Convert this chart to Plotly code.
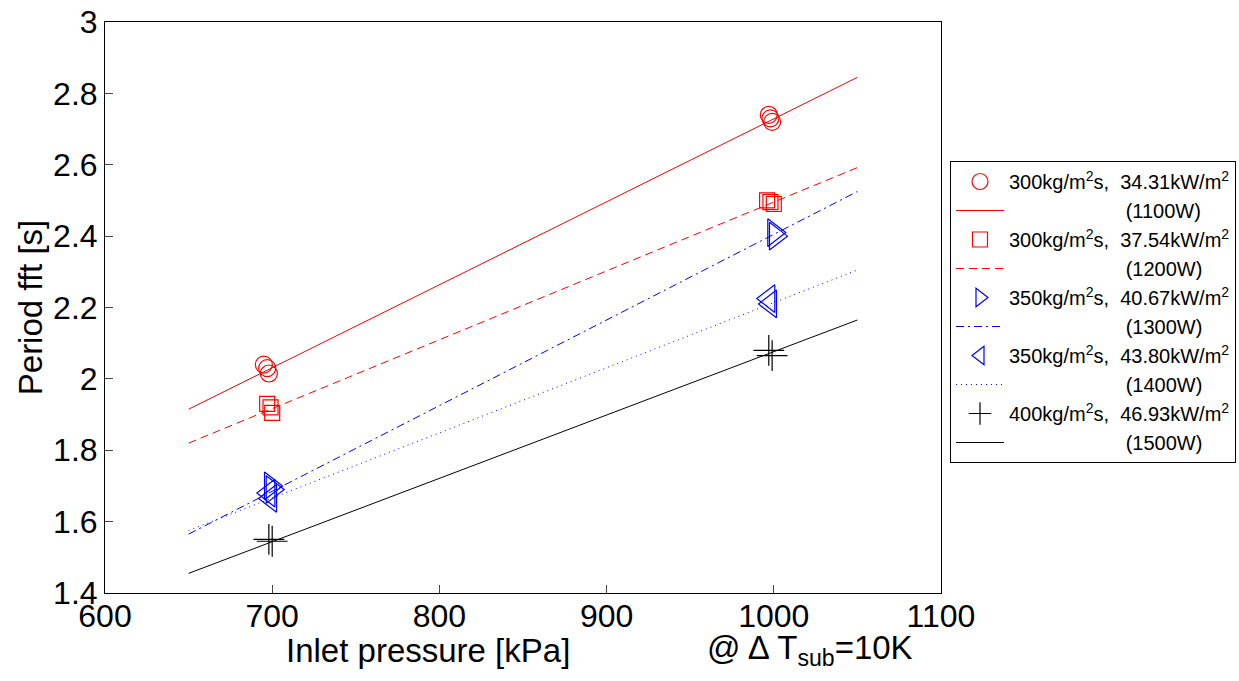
import plotly.graph_objects as go

# ---- data ----
labels = ["300kg/m<sup>2</sup>s,\u00a0 34.31kW/m<sup>2</sup>",
          "300kg/m<sup>2</sup>s,\u00a0 37.54kW/m<sup>2</sup>",
          "350kg/m<sup>2</sup>s,\u00a0 40.67kW/m<sup>2</sup>",
          "350kg/m<sup>2</sup>s,\u00a0 43.80kW/m<sup>2</sup>",
          "400kg/m<sup>2</sup>s,\u00a0 46.93kW/m<sup>2</sup>"]
powers = ["(1100W)", "(1200W)", "(1300W)", "(1400W)", "(1500W)"]

p_1100 = [695, 697, 698, 997, 998, 999]
t_1100 = [2.04, 2.03, 2.015, 2.74, 2.73, 2.72]
p_1200 = [697, 699, 700, 996, 998, 1000]
t_1200 = [1.93, 1.92, 1.905, 2.50, 2.495, 2.49]
p_1300 = [699, 700, 1000, 1001]
t_1300 = [1.70, 1.69, 2.41, 2.40]
p_1400 = [698, 699, 997, 998]
t_1400 = [1.68, 1.665, 2.225, 2.21]
p_1500 = [698, 700, 997, 999]
t_1500 = [1.55, 1.545, 2.08, 2.065]

fit_p = [650, 1050]
fit_1100 = [1.915, 2.845]
fit_1200 = [1.82, 2.592]
fit_1300 = [1.565, 2.525]
fit_1400 = [1.575, 2.305]
fit_1500 = [1.455, 2.165]

x_ticks = [600, 700, 800, 900, 1000, 1100]
y_ticks = [1.4, 1.6, 1.8, 2.0, 2.2, 2.4, 2.6, 2.8, 3.0]
y_tick_text = ["1.4", "1.6", "1.8", "2", "2.2", "2.4", "2.6", "2.8", "3"]

RED = "rgb(255,0,0)"
BLUE = "rgb(0,0,255)"
BLACK = "rgb(0,0,0)"

series = [
    (p_1100, t_1100, fit_1100, "circle-open", 17, RED, "solid"),
    (p_1200, t_1200, fit_1200, "square-open", 15, RED, "8px,5px"),
    (p_1300, t_1300, fit_1300, "triangle-right-open", 24, BLUE, "8px,4px,2px,4px"),
    (p_1400, t_1400, fit_1400, "triangle-left-open", 24, BLUE, "1px,4px"),
    (p_1500, t_1500, fit_1500, "cross-thin-open", 22, BLACK, "solid"),
]

FONT = "Liberation Sans, Arial, sans-serif"
fig = go.Figure()
for i, (px, py, fy, sym, sz, col, dash) in enumerate(series):
    fig.add_trace(go.Scatter(
        x=px, y=py, mode="markers", name=labels[i],
        legendgroup=f"g{i}",
        marker=dict(symbol=sym, size=sz, color=col, line=dict(color=col, width=1.2)),
    ))
    fig.add_trace(go.Scatter(
        x=fit_p, y=fy, mode="lines", name="\u00a0" * 21 + powers[i],
        legendgroup=f"g{i}",
        line=dict(color=col, width=1, dash=dash),
    ))

fig.update_layout(
    width=1239, height=681,
    margin=dict(l=105, r=298, t=22, b=88, autoexpand=False),
    paper_bgcolor="white", plot_bgcolor="white",
    font=dict(family=FONT, color="black", size=32),
    showlegend=True,
    legend=dict(
        xref="container", yref="container",
        x=950 / 1239, y=1 - 161 / 681, xanchor="left", yanchor="top",
        bordercolor="black", borderwidth=1, bgcolor="white",
        font=dict(size=20, family=FONT), itemwidth=48,
        tracegroupgap=0, itemsizing="trace",
    ),
    xaxis=dict(
        range=[600, 1100], tickvals=x_ticks, ticks="inside", ticklen=8,
        showgrid=False, zeroline=False, showline=True, linecolor="black",
        linewidth=1, mirror=True, tickfont=dict(size=32), automargin=False,
        ticklabelstandoff=-5,
    ),
    yaxis=dict(
        range=[1.4, 3.0], tickvals=y_ticks, ticktext=y_tick_text,
        ticks="inside", ticklen=8, showgrid=False, zeroline=False,
        showline=True, linecolor="black", linewidth=1, mirror=True,
        tickfont=dict(size=32), automargin=False,
        title=dict(text="Period fft [s]", font=dict(size=33), standoff=0),
    ),
    annotations=[
        dict(text="Inlet pressure [kPa]", xref="paper", yref="paper",
             x=(428 - 105) / 836, y=-0.1, xanchor="center", yanchor="middle",
             showarrow=False, font=dict(size=33)),
        dict(text="@ \u0394 T<sub>sub</sub>=10K", xref="paper", yref="paper",
             x=(705 - 105) / 836, y=-0.1, xanchor="left", yanchor="middle",
             showarrow=False, font=dict(size=33)),
    ],
)

fig.write_html("out.html")
